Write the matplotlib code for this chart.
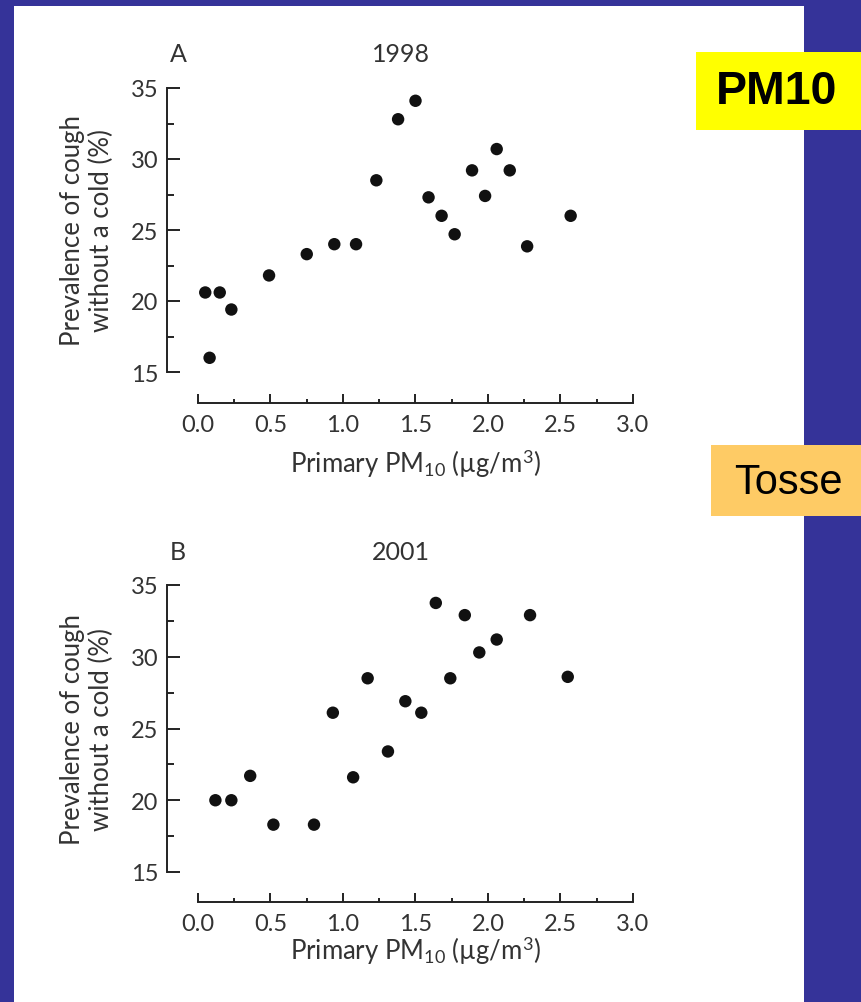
import matplotlib
matplotlib.use("Agg")
import matplotlib.pyplot as plt
from matplotlib.patches import Rectangle
from matplotlib.ticker import MultipleLocator

plt.rcParams['font.family'] = ['Lato', 'DejaVu Sans']
plt.rcParams['mathtext.fontset'] = 'custom'
plt.rcParams['mathtext.rm'] = 'Lato'
plt.rcParams['mathtext.it'] = 'Lato:italic'

# ---- data ----
x_1998 = [0.05, 0.15, 0.23, 0.08, 0.49, 0.75, 0.94, 1.09, 1.23, 1.38, 1.50,
          1.59, 1.68, 1.77, 1.89, 1.98, 2.06, 2.15, 2.27, 2.57]
y_1998 = [20.6, 20.6, 19.4, 16.0, 21.8, 23.3, 24.0, 24.0, 28.5, 32.8, 34.1,
          27.3, 26.0, 24.7, 29.2, 27.4, 30.7, 29.2, 23.85, 26.0]

x_2001 = [0.12, 0.23, 0.36, 0.52, 0.80, 0.93, 1.07, 1.17, 1.31, 1.43, 1.54,
          1.64, 1.74, 1.84, 1.94, 2.06, 2.29, 2.55]
y_2001 = [20.0, 20.0, 21.7, 18.3, 18.3, 26.1, 21.6, 28.5, 23.4, 26.9, 26.1,
          33.75, 28.5, 32.9, 30.3, 31.2, 32.9, 28.6]

panel_letters = ["A", "B"]
panel_years = ["1998", "2001"]
x_ticks = [0.0, 0.5, 1.0, 1.5, 2.0, 2.5, 3.0]
x_tick_labels = ["0.0", "0.5", "1.0", "1.5", "2.0", "2.5", "3.0"]
y_ticks = [15, 20, 25, 30, 35]
ylabel_text = "Prevalence of cough\nwithout a cold (%)"
xlabel_text = "Primary PM$_{10}$ (\u00b5g/m$^{3}$)"

W, H = 862, 1003
fig = plt.figure(figsize=(W / 100, H / 100), dpi=100)
navy = '#353399'
fig.patch.set_facecolor(navy)

def fx(px):
    return px / W

def fy(py):
    return 1 - py / H

# white panel
white = Rectangle((fx(14), fy(1003)), fx(804) - fx(14), fy(7) - fy(1003),
                  transform=fig.transFigure, facecolor='white',
                  edgecolor='none', zorder=-10)
fig.add_artist(white)

txt_col = '#333333'
tick_fs = 17
label_fs = 18.5
year_fs = 18
letter_fs = 18

panels = [
    dict(x=x_1998, y=y_1998, top=89, bot=373, xaxis=404, title_y=55,
         ylabel_y=231, xlabel_y=464),
    dict(x=x_2001, y=y_2001, top=586, bot=873, xaxis=903, title_y=552,
         ylabel_y=730, xlabel_y=951),
]

for i, p in enumerate(panels):
    left, right = 198, 633
    ax = fig.add_axes([fx(left), fy(p['bot']), fx(right) - fx(left),
                       fy(p['top']) - fy(p['bot'])])
    ax.set_zorder(5)
    ax.set_facecolor('none')
    ax.scatter(p['x'], p['y'], s=80, color='#111111', edgecolors='none',
               zorder=3, clip_on=False)
    ax.set_xlim(0, 3.0)
    ax.set_ylim(15, 35)
    for s in ['top', 'right']:
        ax.spines[s].set_visible(False)
    off_x = (left - 167) * 0.72
    off_y = (p['xaxis'] - p['bot']) * 0.72
    ax.spines['left'].set_position(('outward', off_x))
    ax.spines['bottom'].set_position(('outward', off_y))
    ax.spines['left'].set_bounds(15, 35)
    ax.spines['bottom'].set_bounds(0, 3)
    for s in ['left', 'bottom']:
        ax.spines[s].set_linewidth(1.4)
        ax.spines[s].set_color('#222222')
    ax.set_xticks(x_ticks)
    ax.set_xticklabels(x_tick_labels)
    ax.set_yticks(y_ticks)
    ax.xaxis.set_minor_locator(MultipleLocator(0.25))
    ax.yaxis.set_minor_locator(MultipleLocator(2.5))
    ax.tick_params(axis='y', which='major', direction='in', length=9.5,
                   width=1.4, color='#222222', labelsize=tick_fs,
                   labelcolor=txt_col, pad=6)
    ax.tick_params(axis='y', which='minor', direction='in', length=5,
                   width=1.4, color='#222222')
    ax.tick_params(axis='x', which='major', direction='in', length=6.5,
                   width=1.4, color='#222222', labelsize=tick_fs,
                   labelcolor=txt_col, pad=8)
    ax.tick_params(axis='x', which='minor', direction='in', length=3,
                   width=1.4, color='#222222')

    fig.text(fx(178), fy(p['title_y']), panel_letters[i], ha='center',
             va='center', fontsize=letter_fs, color=txt_col)
    fig.text(fx(401), fy(p['title_y']), panel_years[i], ha='center',
             va='center', fontsize=year_fs, color=txt_col)
    fig.text(fx(87), fy(p['ylabel_y']), ylabel_text, ha='center', va='center',
             rotation=90, fontsize=label_fs, color=txt_col, multialignment='center',
             linespacing=1.15)
    fig.text(fx(415), fy(p['xlabel_y']), xlabel_text, ha='center', va='center',
             fontsize=label_fs, color=txt_col)

# label boxes
fig.add_artist(Rectangle((fx(696), fy(131)), fx(862) - fx(696), fy(53) - fy(131),
                         transform=fig.transFigure, facecolor='#FFFF00',
                         edgecolor='none', zorder=2))
fig.text(fx(777), fy(92), "PM10", ha='center', va='center', fontsize=33.5,
         fontweight='bold', family=['Liberation Sans', 'DejaVu Sans'],
         color='black', zorder=3)
fig.add_artist(Rectangle((fx(711), fy(517)), fx(862) - fx(711), fy(446) - fy(517),
                         transform=fig.transFigure, facecolor='#FECB65',
                         edgecolor='none', zorder=2))
fig.text(fx(788), fy(483), "Tosse", ha='center', va='center', fontsize=30,
         family=['Liberation Sans', 'DejaVu Sans'], color='black', zorder=3)

fig.savefig('out.png', dpi=100, facecolor=fig.get_facecolor())
